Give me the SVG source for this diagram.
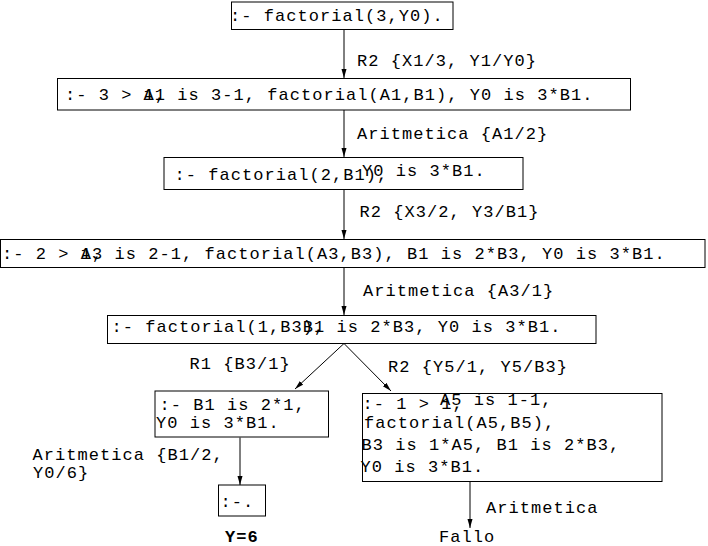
<svg xmlns="http://www.w3.org/2000/svg" width="708" height="546" viewBox="0 0 708 546">
<style>
text{font-family:"Liberation Mono","Courier New",monospace;font-size:17px;letter-spacing:1.05px;fill:#000}
.b{font-weight:bold}
rect{fill:#fff;stroke:#000;stroke-width:1}
.c line{stroke:#000;stroke-width:1}
</style>
<defs>
<marker id="ah" markerUnits="userSpaceOnUse" markerWidth="12" markerHeight="8" refX="9" refY="3" orient="auto">
<path d="M0,0.5 L9,3 L0,5.5 z" fill="#000"/>
</marker>
</defs>
<rect width="708" height="546" style="fill:#fff;stroke:none"/>
<g class="c">
<line x1="344" y1="29.5" x2="344" y2="78" marker-end="url(#ah)"/>
<line x1="344" y1="110" x2="344" y2="157" marker-end="url(#ah)"/>
<line x1="344" y1="189.5" x2="344" y2="239" marker-end="url(#ah)"/>
<line x1="344" y1="267.5" x2="344" y2="315" marker-end="url(#ah)"/>
<line x1="344" y1="343.5" x2="295" y2="389" marker-end="url(#ah)"/>
<line x1="344" y1="343.5" x2="391" y2="391" marker-end="url(#ah)"/>
<line x1="240" y1="437.5" x2="240" y2="485" marker-end="url(#ah)"/>
<line x1="470" y1="481.5" x2="470" y2="528" marker-end="url(#ah)"/>
</g>
<g id="labels">
<text x="357" y="66">R2 {X1/3, Y1/Y0}</text>
<text x="357" y="139">Aritmetica {A1/2}</text>
<text x="359.5" y="217">R2 {X3/2, Y3/B1}</text>
<text x="363" y="296">Aritmetica  {A3/1}</text>
<text x="189.5" y="369">R1 {B3/1}</text>
<text x="388" y="372">R2 {Y5/1, Y5/B3}</text>
<text x="32.5" y="460">Aritmetica {B1/2,</text>
<text x="33" y="478">Y0/6}</text>
<text x="486" y="513">Aritmetica</text>
</g>
<g id="n1">
<rect x="231.5" y="2" width="221.5" height="27.5"/>
<text x="230" y="21">:- factorial(3,Y0).</text>
</g>
<g id="n2">
<rect x="57.5" y="78.5" width="573" height="31.5"/>
<text x="65" y="100">:- 3 &gt; 1,</text>
<text x="143.5" y="100">A1 is 3-1, factorial(A1,B1), Y0 is 3*B1.</text>
</g>
<g id="n3">
<rect x="164" y="157.5" width="359" height="32"/>
<text x="174.5" y="180">:- factorial(2,B1),</text>
<text x="362" y="176">Y0 is 3*B1.</text>
</g>
<g id="n4">
<rect x="0.5" y="239.5" width="704.5" height="28"/>
<text x="2" y="259">:- 2 &gt; 1,</text>
<text x="80.7" y="259">A3 is 2-1, factorial(A3,B3), B1 is 2*B3, Y0 is 3*B1.</text>
</g>
<g id="n5">
<rect x="107.5" y="315.5" width="488.5" height="28"/>
<text x="111.6" y="332">:- factorial(1,B3),</text>
<text x="302.8" y="332">B1 is 2*B3, Y0 is 3*B1.</text>
</g>
<g id="n6">
<rect x="155" y="391" width="173.5" height="46"/>
<text x="159.6" y="410">:- B1 is 2*1,</text>
<text x="156" y="428">Y0 is 3*B1.</text>
</g>
<g id="n7">
<rect x="362.5" y="393.5" width="299.5" height="88"/>
<text x="362.5" y="409">:- 1 &gt; 1,</text>
<text x="440" y="405">A5 is 1-1,</text>
<text x="364" y="428">factorial(A5,B5),</text>
<text x="361.5" y="450">B3 is 1*A5, B1 is 2*B3,</text>
<text x="360.5" y="472">Y0 is 3*B1.</text>
</g>
<g id="n8">
<rect x="218.5" y="485" width="47" height="31"/>
<text x="220.4" y="507">:-.</text>
</g>
<g id="results">
<text class="b" x="225" y="542">Y=6</text>
<text x="439" y="542">Fallo</text>
</g>
</svg>
